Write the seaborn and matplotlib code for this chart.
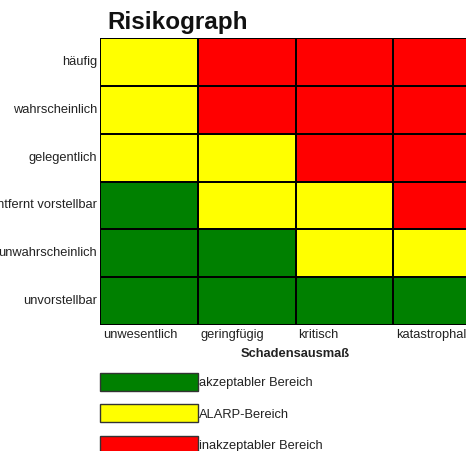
import numpy as np
import pandas as pd
import matplotlib.pyplot as plt
import seaborn as sns
from matplotlib.colors import ListedColormap
from matplotlib.patches import Patch

# Schadensausmass (columns) und Wahrscheinlichkeit (rows)
schaden = ["unwesentlich", "geringfügig", "kritisch", "katastrophal"]
wahrsch = ["häufig", "wahrscheinlich", "gelegentlich",
           "entfernt vorstellbar", "unwahrscheinlich", "unvorstellbar"]
# 0 = akzeptabel, 1 = ALARP, 2 = inakzeptabel
risiko = [[1, 2, 2, 2],
          [1, 2, 2, 2],
          [1, 1, 2, 2],
          [0, 1, 1, 2],
          [0, 0, 1, 1],
          [0, 0, 0, 0]]
bereiche = ["akzeptabler Bereich", "ALARP-Bereich", "inakzeptabler Bereich"]
farben = ["#008000", "#ffff00", "#ff0000"]

sns.set_style("white")
plt.rcParams['font.family'] = ['Liberation Sans', 'DejaVu Sans']

df = pd.DataFrame(risiko, index=wahrsch, columns=schaden)

fig = plt.figure(figsize=(4.66, 4.51), dpi=100)
ax = fig.add_axes([100 / 466, 1 - 325 / 451, 391 / 466, 287 / 451])
sns.heatmap(df, cmap=ListedColormap(farben), vmin=-0.5, vmax=2.5,
            linewidths=1.2, linecolor="black", cbar=False, ax=ax)

ax.set_xticks(np.arange(len(schaden)) + 0.03)
ax.set_xticklabels(schaden, ha="left", rotation=0, fontsize=9.3, color="#222222")
ax.set_yticklabels(wahrsch, rotation=0, fontsize=9.3, color="#222222")
ax.tick_params(length=0, pad=2)
ax.tick_params(axis="x", pad=3)
ax.set_ylabel("")
ax.set_xlabel("Schadensausmaß", fontsize=9.3, fontweight="bold",
              color="#222222", labelpad=5)

fig.text(107 / 466, 1 - 11 / 451, "Risikograph", fontsize=17.5,
         fontweight="bold", color="#111111", va="top", ha="left")

handles = [Patch(facecolor=c, edgecolor="#333333", linewidth=1) for c in farben]
fig.legend(handles, bereiche, loc="upper left",
           bbox_to_anchor=(100 / 466, 1 - 373 / 451), frameon=False,
           fontsize=9.3, handlelength=7.6, handleheight=1.75,
           handletextpad=0.1, labelspacing=1.05, borderpad=0,
           borderaxespad=0, labelcolor="#222222")

fig.savefig("out.png", dpi=100)
